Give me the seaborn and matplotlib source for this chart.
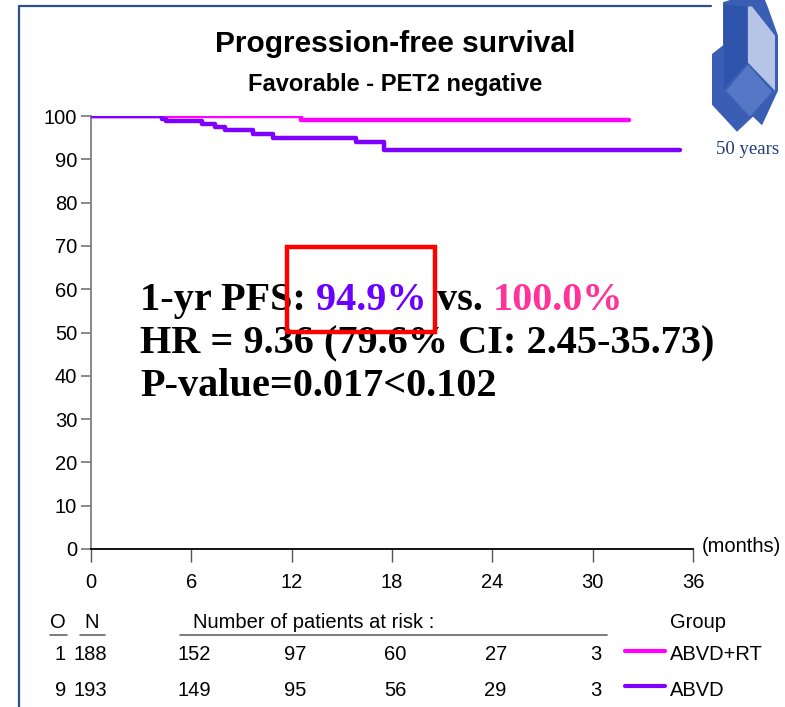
import matplotlib
matplotlib.use("Agg")
import matplotlib.pyplot as plt
import matplotlib.transforms as mtransforms
from matplotlib.patches import Polygon, Rectangle
from matplotlib.lines import Line2D
import numpy as np
import pandas as pd
import seaborn as sns

# ---- data -------------------------------------------------------------
groups = ["ABVD+RT", "ABVD"]
colors = {"ABVD+RT": "#FF00FF", "ABVD": "#8000FF"}

rt_time = [0.0, 12.57, 32.2]
rt_surv = [100.0, 99.1, 99.1]

abvd_time = [0.0, 4.27, 4.46, 6.64, 7.40, 8.02, 9.68, 10.86, 15.84, 17.55, 35.2]
abvd_surv = [100.0, 99.4, 98.8, 98.1, 97.5, 96.8, 95.9, 94.9, 93.9, 92.2, 92.2]

x_ticks = [0, 6, 12, 18, 24, 30, 36]
y_ticks = [0, 10, 20, 30, 40, 50, 60, 70, 80, 90, 100]

events = [1, 9]
n_total = [188, 193]
risk_times = [6, 12, 18, 24, 30]
at_risk = {"ABVD+RT": [152, 97, 60, 27, 3], "ABVD": [149, 95, 56, 29, 3]}

pfs_1yr = {"ABVD": "94.9%", "ABVD+RT": "100.0%"}

df = pd.concat([
    pd.DataFrame({"month": rt_time, "pfs": rt_surv, "group": "ABVD+RT"}),
    pd.DataFrame({"month": abvd_time, "pfs": abvd_surv, "group": "ABVD"}),
])

# ---- figure -----------------------------------------------------------
sns.set_theme(style="white")
plt.rcParams["font.family"] = ["Liberation Sans", "DejaVu Sans"]
plt.rcParams["text.color"] = "black"
plt.rcParams["xtick.color"] = "black"
plt.rcParams["ytick.color"] = "black"

W, H = 785, 707
fig = plt.figure(figsize=(W / 100, H / 100), dpi=100)
fig.patch.set_facecolor("white")


def fx(x):
    return x / W


def fy(y):
    return 1 - y / H


ax = fig.add_axes([fx(91), fy(549), fx(693) - fx(91), fy(116) - fy(549)])
ax.set_facecolor("white")

sns.lineplot(data=df, x="month", y="pfs", hue="group", palette=colors,
             hue_order=groups, drawstyle="steps-post", linewidth=3.2,
             legend=False, ax=ax, estimator=None, sort=False)
ax.lines[0].set_zorder(3)
ax.lines[1].set_zorder(4)

ax.set_xlim(0, 36)
ax.set_ylim(0, 100)
ax.set_xticks(x_ticks)
ax.set_yticks(y_ticks)
ax.set_xticklabels([str(t) for t in x_ticks])
ax.set_yticklabels([str(t) for t in y_ticks])
ax.set_xlabel("")
ax.set_ylabel("")
for s in ["top", "right"]:
    ax.spines[s].set_visible(False)
ax.spines["left"].set_color("#7F7F7F")
ax.spines["left"].set_linewidth(1.3)
ax.spines["bottom"].set_color("black")
ax.spines["bottom"].set_linewidth(1.3)
ax.tick_params(axis="y", direction="out", length=7, width=1.3, color="#7F7F7F",
               labelsize=14.5, pad=3, left=True, labelcolor="black")
ax.tick_params(axis="x", direction="out", length=9, width=1.0, color="#555555",
               labelsize=14.5, pad=8, bottom=True, labelcolor="black")
ax.grid(False)

ax.text(1.015, 0.005, "(months)", transform=ax.transAxes, fontsize=14.5,
        ha="left", va="center")

# ---- titles -------------------------------------------------------------
fig.text(fx(395), fy(44), "Progression-free survival", ha="center", va="center",
         fontsize=21.5, fontweight="bold")
fig.text(fx(395), fy(85), "Favorable - PET2 negative", ha="center", va="center",
         fontsize=17, fontweight="bold")

# ---- annotation block ---------------------------------------------------
serif = ["Liberation Serif", "DejaVu Serif"]
big = 29
t1 = fig.text(fx(140), fy(301), "1-yr PFS: ", ha="left", va="center",
              fontsize=big, fontweight="bold", family=serif, color="black")
fig.canvas.draw()
r = fig.canvas.get_renderer()
bb = t1.get_window_extent(r)
t2 = fig.text(bb.x1 / W, fy(301), pfs_1yr["ABVD"] + " ", ha="left", va="center",
              fontsize=big, fontweight="bold", family=serif, color="#6A00FF")
bb = t2.get_window_extent(r)
t3 = fig.text(bb.x1 / W, fy(301), "vs. ", ha="left", va="center",
              fontsize=big, fontweight="bold", family=serif, color="black")
bb = t3.get_window_extent(r)
fig.text(bb.x1 / W, fy(301), pfs_1yr["ABVD+RT"], ha="left", va="center",
         fontsize=big, fontweight="bold", family=serif, color="#FF3399")
fig.text(fx(140), fy(344), "HR = 9.36 (79.6% CI: 2.45-35.73)", ha="left",
         va="center", fontsize=big, fontweight="bold", family=serif)
fig.text(fx(140), fy(387), "P-value=0.017<0.102", ha="left", va="center",
         fontsize=big, fontweight="bold", family=serif)

fig.patches.append(Rectangle((fx(287), fy(332)), fx(435) - fx(287), fy(247) - fy(332),
                             transform=fig.transFigure, fill=False,
                             edgecolor="#FF0000", linewidth=3.2, zorder=10))

# ---- risk table ---------------------------------------------------------
tfs = 14.5
fig.text(fx(58), fy(622), "O", ha="center", va="center", fontsize=tfs)
fig.text(fx(92), fy(622), "N", ha="center", va="center", fontsize=tfs)
fig.text(fx(193), fy(622), "Number of patients at risk :", ha="left", va="center",
         fontsize=tfs)
fig.text(fx(698), fy(622), "Group", ha="center", va="center", fontsize=tfs)
for x0, x1 in [(50, 67), (80, 105), (180, 607)]:
    fig.lines.append(Line2D([fx(x0), fx(x1)], [fy(635), fy(635)],
                            transform=fig.transFigure, color="#666666", lw=1.2))

blend = mtransforms.blended_transform_factory(ax.transData, fig.transFigure)
row_y = [655, 690]
for gi, g in enumerate(groups):
    yy = fy(row_y[gi])
    fig.text(fx(66), yy, str(events[gi]), ha="right", va="center", fontsize=tfs)
    fig.text(fx(90), yy, str(n_total[gi]), ha="center", va="center", fontsize=tfs)
    for t, n in zip(risk_times, at_risk[g]):
        ax.text(t + 0.2, yy, str(n), transform=blend, ha="center", va="center",
                fontsize=tfs, clip_on=False)
    fig.lines.append(Line2D([fx(625), fx(665)], [yy + 0.005, yy + 0.005],
                            transform=fig.transFigure, color=colors[g], lw=3))
    fig.text(fx(670), yy, g, ha="left", va="center", fontsize=tfs)

# ---- slide frame --------------------------------------------------------
fig.lines.append(Line2D([fx(19), fx(19)], [fy(6), fy(707)], transform=fig.transFigure,
                        color="#2F4F8F", lw=1.6))
fig.lines.append(Line2D([fx(19), fx(711)], [fy(6), fy(6)], transform=fig.transFigure,
                        color="#2F4F8F", lw=1.6))


# ---- logo ---------------------------------------------------------------
def logo_poly(pts, color):
    xy = [(fx(px - 5), fy(py * 1.08)) for px, py in pts]
    fig.patches.append(Polygon(xy, closed=True, transform=fig.transFigure,
                               facecolor=color, edgecolor="none"))


# outer silhouette
logo_poly([(728, 2), (735, 0), (770, 0), (773, 7), (783, 33), (783, 84),
           (767, 116), (758, 108), (742, 122), (717, 97), (717, 50), (728, 42)],
          "#3A5EB4")
# dark front prism
logo_poly([(729, 4), (751, 6), (752, 58), (729, 82)], "#2D53AB")
# light side face
logo_poly([(753, 6), (757, 6), (780, 33), (780, 84), (753, 58)], "#B6C4E8")
# lower diamond
logo_poly([(731, 84), (753, 60), (777, 85), (755, 108)], "#5677C6")
fig.text(fx(748), fy(150), "50 years", ha="center", va="center", fontsize=13.5,
         family=serif, color="#1F3A7A")

fig.savefig("out.png", dpi=100)
